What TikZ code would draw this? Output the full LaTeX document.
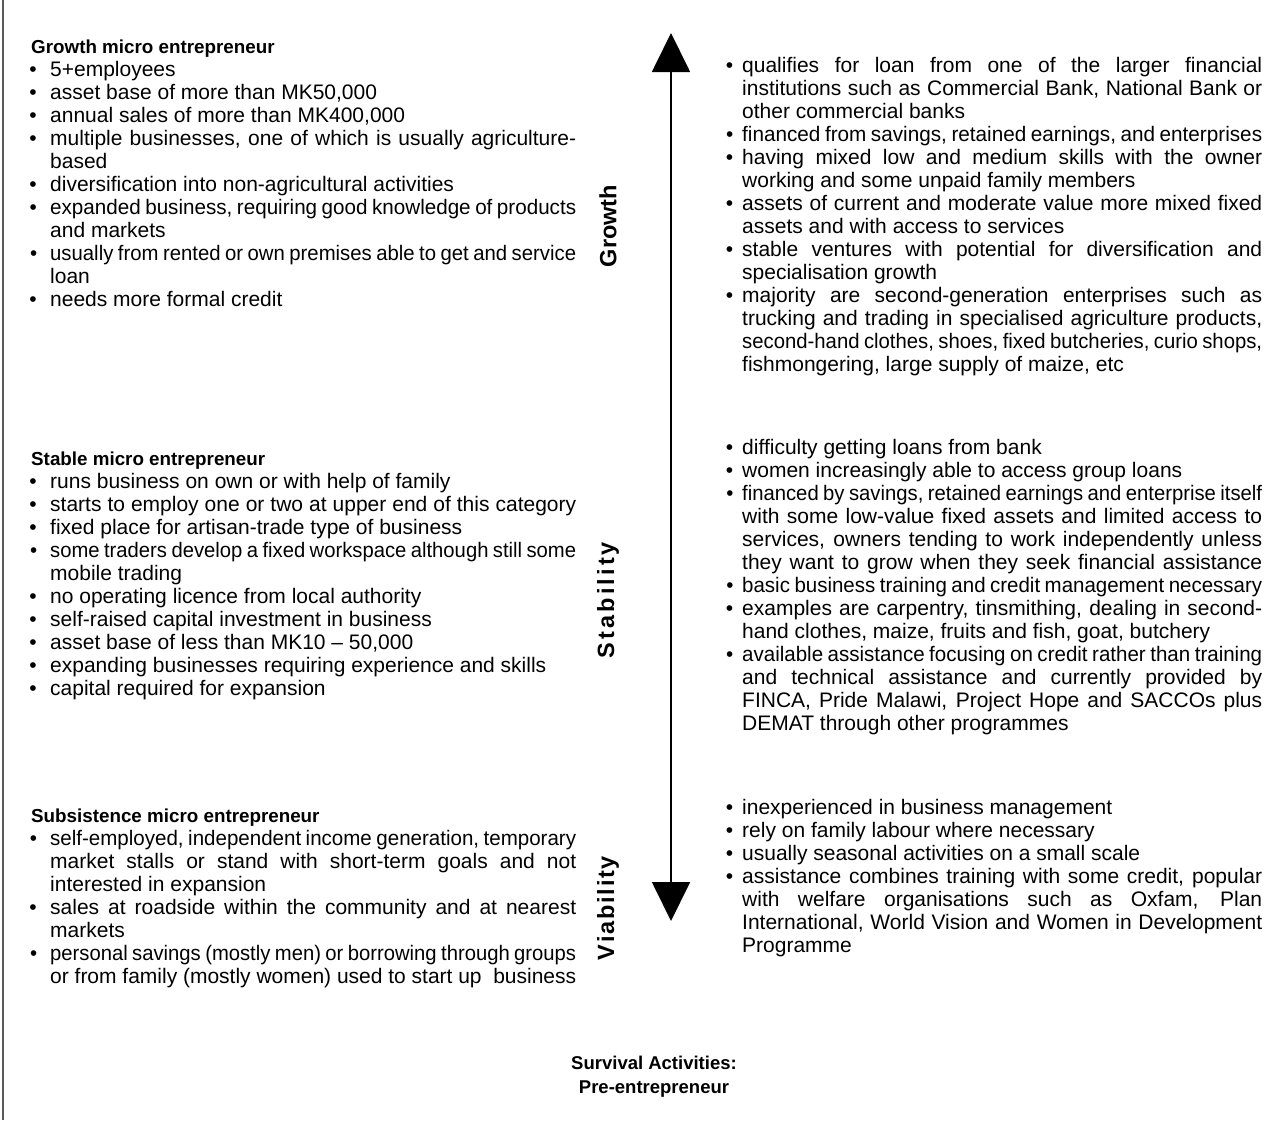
\documentclass[tikz,border=0pt]{standalone}
\usepackage{fontspec}
\usepackage{graphicx}
\setmainfont{Liberation Sans}
\usetikzlibrary{arrows.meta}
\newlength\colL \setlength\colL{526pt}
\newlength\colR \setlength\colR{520pt}
\newsavebox\fitbox
\newcommand\fitline[2]{%
  \sbox\fitbox{\spaceskip=.22em\relax #2}%
  \ifdim\wd\fitbox>#1\relax
    \pgfmathsetmacro\fitfac{#1/\wd\fitbox}%
    \scalebox{\fitfac}[1]{\usebox\fitbox}%
  \else
    \makebox[#1][s]{\spaceskip=.278em plus 1em minus .06em\relax #2}%
  \fi}
\newcommand\jL[1]{\fitline{\colL}{#1}}
\newcommand\jR[1]{\fitline{\colR}{#1}}
\newcommand\bL{\leavevmode\llap{\textbullet\hspace{13.5pt}}}
\newcommand\bR{\leavevmode\llap{\textbullet\hspace{9pt}}}
\newcommand\hd[1]{\leavevmode\hspace*{-19pt}{\fontsize{18.8}{23}\selectfont\bfseries #1}}
\newcommand\spreadto[2]{\makebox[#1][s]{#2}}
\begin{document}
\begin{tikzpicture}[x=1pt,y=-1pt,
  blk/.style={inner sep=0pt, anchor=base west, font=\fontsize{21}{23}\selectfont},
  vlab/.style={inner sep=0pt, rotate=90, font=\fontsize{23.5}{27}\selectfont\bfseries},
  surv/.style={inner sep=0pt, anchor=base, font=\fontsize{18.5}{22}\selectfont\bfseries},
  axis/.style={line width=1.8pt, {Triangle[width=38pt,length=39pt]}-{Triangle[width=38pt,length=39pt]}},
  frame/.style={line width=1.2pt, black!65}]
\useasboundingbox (0,0) rectangle (1280,1120);
\draw[frame] (3,0) -- (3,1120);

% left column
\node[blk] (lg) at (50,53) {\parbox[t]{\colL}{%
\hd{Growth micro entrepreneur}\\
\bL 5+employees\\
\bL asset base of more than MK50,000\\
\bL annual sales of more than MK400,000\\
\jL{\bL multiple businesses, one of which is usually agriculture-}\\
based\\
\bL diversification into non-agricultural activities\\
\jL{\bL expanded business, requiring good knowledge of products}\\
and markets\\
\jL{\bL usually from rented or own premises able to get and service}\\
loan\\
\bL needs more formal credit}};

\node[blk] (ls) at (50,465) {\parbox[t]{\colL}{%
\hd{Stable micro entrepreneur}\\
\bL runs business on own or with help of family\\
\jL{\bL starts to employ one or two at upper end of this category}\\
\bL fixed place for artisan-trade type of business\\
\jL{\bL some traders develop a fixed workspace although still some}\\
mobile trading\\
\bL no operating licence from local authority\\
\bL self-raised capital investment in business\\
\bL asset base of less than MK10 – 50,000\\
\bL expanding businesses requiring experience and skills\\
\bL capital required for expansion}};

\node[blk] (lv) at (50,822) {\parbox[t]{\colL}{%
\hd{Subsistence micro entrepreneur}\\
\jL{\bL self-employed, independent income generation, temporary}\\
\jL{market stalls or stand with short-term goals and not}\\
interested in expansion\\
\jL{\bL sales at roadside within the community and at nearest}\\
markets\\
\jL{\bL personal savings (mostly men) or borrowing through groups}\\
or from family (mostly women) used to start up\ \ business}};

% vertical labels
\node[vlab] (vg) at (608,226) {Growth};
\node[vlab] (vs) at (608,600) {\spreadto{116pt}{S\hfill t\hfill a\hfill b\hfill i\hfill l\hfill i\hfill t\hfill y}};
\node[vlab] (vv) at (608,908) {\spreadto{104pt}{V\hfill i\hfill a\hfill b\hfill i\hfill l\hfill i\hfill t\hfill y}};

% axis arrow
\coordinate (atop) at (671,33);
\coordinate (abot) at (671,921);
\draw[axis] (abot) -- (atop);

% right column
\node[blk] (rg) at (742,72) {\parbox[t]{\colR}{%
\jR{\bR qualifies for loan from one of the larger financial}\\
\jR{institutions such as Commercial Bank, National Bank or}\\
other commercial banks\\
\jR{\bR financed from savings, retained earnings, and enterprises}\\
\jR{\bR having mixed low and medium skills with the owner}\\
working and some unpaid family members\\
\jR{\bR assets of current and moderate value more mixed fixed}\\
assets and with access to services\\
\jR{\bR stable ventures with potential for diversification and}\\
specialisation growth\\
\jR{\bR majority are second-generation enterprises such as}\\
\jR{trucking and trading in specialised agriculture products,}\\
\jR{second-hand clothes, shoes, fixed butcheries, curio shops,}\\
fishmongering, large supply of maize, etc}};

\node[blk] (rs) at (742,454) {\parbox[t]{\colR}{%
\bR difficulty getting loans from bank\\
\bR women increasingly able to access group loans\\
\jR{\bR financed by savings, retained earnings and enterprise itself}\\
\jR{with some low-value fixed assets and limited access to}\\
\jR{services, owners tending to work independently unless}\\
\jR{they want to grow when they seek financial assistance}\\
\jR{\bR basic business training and credit management necessary}\\
\jR{\bR examples are carpentry, tinsmithing, dealing in second-}\\
hand clothes, maize, fruits and fish, goat, butchery\\
\jR{\bR available assistance focusing on credit rather than training}\\
\jR{and technical assistance and currently provided by}\\
\jR{FINCA, Pride Malawi, Project Hope and SACCOs plus}\\
DEMAT through other programmes}};

\node[blk] (rv) at (742,814) {\parbox[t]{\colR}{%
\bR inexperienced in business management\\
\bR rely on family labour where necessary\\
\bR usually seasonal activities on a small scale\\
\jR{\bR assistance combines training with some credit, popular}\\
\jR{with welfare organisations such as Oxfam, Plan}\\
\jR{International, World Vision and Women in Development}\\
Programme}};

% bottom label
\node[surv] (sv1) at (654,1069) {Survival Activities:};
\node[surv] (sv2) at (654,1093) {Pre-entrepreneur};
\end{tikzpicture}
\end{document}
